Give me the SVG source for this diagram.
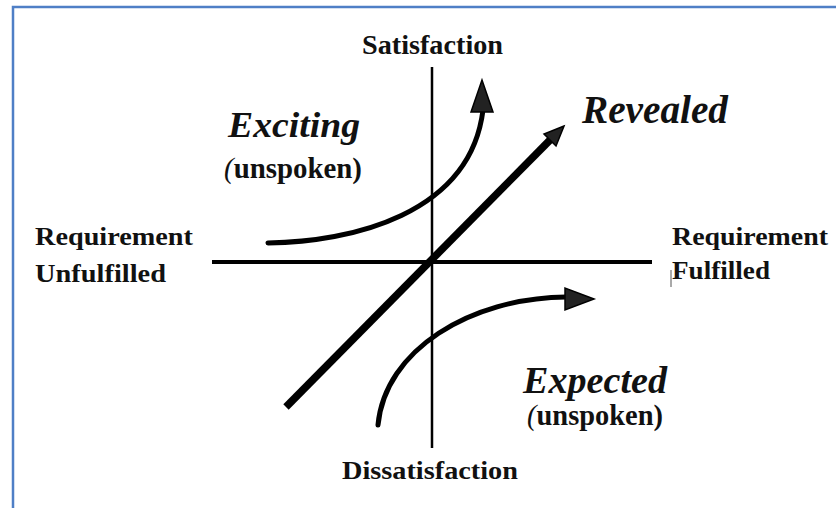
<svg xmlns="http://www.w3.org/2000/svg" width="836" height="508" viewBox="0 0 836 508">
<style>
.lbl{font-family:"Liberation Serif","Times New Roman",serif;font-weight:bold;fill:#111}
.big{font-family:"Liberation Serif","Times New Roman",serif;font-style:italic;font-weight:bold;fill:#111}
.axis{stroke:#000;fill:none}
.curve{stroke:#000;fill:none;stroke-width:5;stroke-linecap:round}
.head{fill:#222;stroke:#000;stroke-width:1.5;stroke-linejoin:miter}
</style>
<rect x="0" y="0" width="836" height="508" fill="#fff"/>
<rect x="13" y="7" width="840" height="520" fill="none" stroke="#4f7fc6" stroke-width="2.5"/>
<g id="connectors">
<line class="axis" x1="432" y1="67" x2="432" y2="448" stroke-width="2.5"/>
<line class="axis" x1="212" y1="262" x2="652" y2="262" stroke-width="4"/>
<line class="axis" x1="286" y1="407" x2="553" y2="137" stroke-width="7.5"/>
<polygon class="head" points="564,126 544,134 556,146"/>
<path class="curve" d="M268,243 C350,242 470,215 483,110"/>
<polygon class="head" points="482,80 471,112 493,112"/>
<path class="curve" d="M378,425 C385,350 470,298 566,297"/>
<polygon class="head" points="594,299 565,288 565,310"/>
<line x1="671" y1="270" x2="671" y2="287" stroke="#555" stroke-width="1"/>
</g>
<g id="satisfaction"><text class="lbl" x="362" y="54" font-size="27" textLength="141" lengthAdjust="spacingAndGlyphs">Satisfaction</text></g>
<g id="dissatisfaction"><text class="lbl" x="342" y="479" font-size="26" textLength="176" lengthAdjust="spacingAndGlyphs">Dissatisfaction</text></g>
<g id="unfulfilled">
<text class="lbl" x="35" y="245" font-size="25" textLength="158" lengthAdjust="spacingAndGlyphs">Requirement</text>
<text class="lbl" x="35" y="282" font-size="25" textLength="131" lengthAdjust="spacingAndGlyphs">Unfulfilled</text>
</g>
<g id="fulfilled">
<text class="lbl" x="672" y="245" font-size="25" textLength="156" lengthAdjust="spacingAndGlyphs">Requirement</text>
<text class="lbl" x="672" y="279" font-size="25" textLength="98" lengthAdjust="spacingAndGlyphs">Fulfilled</text>
</g>
<g id="exciting">
<text class="big" x="228" y="137" font-size="35" textLength="132" lengthAdjust="spacingAndGlyphs">Exciting</text>
<text class="lbl" x="224" y="178" font-size="29" textLength="138" lengthAdjust="spacingAndGlyphs"><tspan font-style="italic" font-weight="normal">(</tspan>unspoken)</text>
</g>
<g id="revealed"><text class="big" x="582" y="123" font-size="40" textLength="146" lengthAdjust="spacingAndGlyphs">Revealed</text></g>
<g id="expected">
<text class="big" x="523" y="393" font-size="37" textLength="144" lengthAdjust="spacingAndGlyphs">Expected</text>
<text class="lbl" x="527" y="425" font-size="29" textLength="136" lengthAdjust="spacingAndGlyphs"><tspan font-style="italic" font-weight="normal">(</tspan>unspoken)</text>
</g>
</svg>
